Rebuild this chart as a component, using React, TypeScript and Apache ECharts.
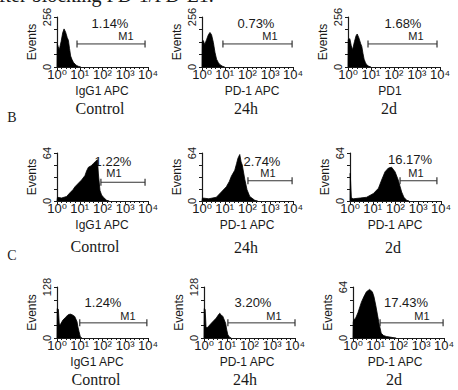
import React, { useEffect, useRef } from 'react';
import * as echarts from 'echarts';

// ---------- data ----------
const headerText = 'after blocking PD-1/PD-L1.';
const xTickLabels = ['10⁰', '10¹', '10²', '10³', '10⁴'];
const conditions = ['Control', '24h', '2d'];
const rowLetters = ['B', 'C'];
const axisNamesA = ['IgG1 APC', 'PD-1 APC', 'PD1'];
const axisNamesB = ['IgG1 APC', 'PD-1 APC', 'PD-1 APC'];
const axisNamesC = ['IgG1 APC', 'PD-1 APC', 'PD-1 APC'];
const yMaxA = [256, 256, 256];
const yMaxB = [64, 64, 64];
const yMaxC = [128, 128, 64];
const pctA = ['1.14%', '0.73%', '1.68%'];
const pctB = ['1.22%', '2.74%', '16.17%'];
const pctC = ['1.24%', '3.20%', '17.43%'];
const gateA = [[0.88, 3.87], [0.92, 3.96], [0.87, 3.87]];
const gateLevelA = [118, 118, 118];
const gateB = [[1.93, 3.87], [2.02, 3.96], [2.2, 3.82]];
const gateLevelB = [25, 27, 27];
const gateC = [[1.0, 3.95], [1.05, 4.0], [1.19, 3.96]];
const gateLevelC = [38, 38, 19];

// histograms: [decade, events]
const histA_control = [[0, 0], [0.01, 120], [0.05, 105], [0.1, 88], [0.18, 130], [0.25, 175], [0.31, 195], [0.38, 178], [0.45, 150], [0.5, 137], [0.55, 95], [0.6, 56], [0.66, 38], [0.72, 24], [0.8, 14], [0.86, 8], [0.95, 3], [1.05, 0]];
const histA_24h = [[0, 0], [0.01, 130], [0.06, 135], [0.12, 115], [0.2, 140], [0.28, 165], [0.35, 177], [0.42, 165], [0.5, 125], [0.57, 75], [0.64, 40], [0.72, 22], [0.79, 12], [0.9, 4], [1.0, 0]];
const histA_2d = [[0, 0], [0.01, 140], [0.08, 145], [0.14, 110], [0.2, 88], [0.28, 130], [0.35, 160], [0.4, 169], [0.47, 150], [0.55, 120], [0.6, 105], [0.65, 70], [0.7, 40], [0.76, 22], [0.81, 12], [0.9, 4], [1.0, 0]];
const histB_control = [[0, 0], [0.02, 5], [0.2, 4], [0.42, 6], [0.57, 11], [0.7, 15], [0.79, 19], [0.95, 24], [1.08, 28], [1.23, 34], [1.3, 40], [1.38, 45], [1.5, 47], [1.6, 50], [1.7, 53], [1.78, 55], [1.82, 36], [1.89, 14], [1.96, 8], [2.04, 5], [2.18, 1], [2.3, 0]];
const histB_24h = [[0, 0], [0.02, 4], [0.3, 3], [0.63, 5], [0.85, 12], [1.07, 19], [1.2, 26], [1.29, 33], [1.44, 41], [1.52, 50], [1.58, 57], [1.66, 62], [1.72, 52], [1.77, 48], [1.88, 29], [1.98, 15], [2.1, 6], [2.32, 1], [2.45, 0]];
const histB_2d = [[0, 0], [0.01, 37], [0.04, 37], [0.06, 4], [0.15, 3], [0.45, 4], [0.73, 5], [1.03, 10], [1.25, 17], [1.39, 28], [1.54, 39], [1.69, 44], [1.83, 45], [1.98, 39], [2.12, 28], [2.27, 12], [2.37, 5], [2.49, 1], [2.6, 0]];
const histC_control = [[0, 0], [0.01, 74], [0.06, 72], [0.1, 35], [0.14, 33], [0.26, 45], [0.38, 52], [0.48, 58], [0.58, 60], [0.68, 58], [0.78, 54], [0.88, 41], [0.92, 28], [0.97, 16], [1.03, 2], [1.1, 0]];
const histC_24h = [[0, 0], [0.01, 74], [0.05, 72], [0.09, 28], [0.13, 25], [0.32, 37], [0.54, 50], [0.62, 57], [0.69, 62], [0.76, 58], [0.83, 54], [0.95, 37], [1.0, 20], [1.05, 8], [1.12, 2], [1.2, 0]];
const histC_2d = [[0, 0], [0.01, 20], [0.04, 23], [0.12, 25], [0.22, 32], [0.37, 45], [0.48, 52], [0.59, 58], [0.73, 61], [0.85, 58], [0.92, 52], [1.0, 41], [1.07, 30], [1.14, 19], [1.24, 6], [1.35, 3], [1.46, 2], [1.76, 0.5], [1.9, 0]];

// ---------- layout ----------
const gridLayout = [
  { left: 57, top: 17, width: 91, height: 50 },
  { left: 202, top: 17, width: 91, height: 50 },
  { left: 348, top: 17, width: 92, height: 50 },
  { left: 57, top: 153, width: 91, height: 48 },
  { left: 202, top: 153, width: 91, height: 48 },
  { left: 350, top: 153, width: 91, height: 48 },
  { left: 57, top: 287, width: 91, height: 51 },
  { left: 204, top: 287, width: 91, height: 51 },
  { left: 353, top: 287, width: 91, height: 51 },
];
const pctPos = [[110, 23], [256, 23], [403, 23], [113, 161], [262, 161], [410, 159], [103, 302], [253, 302], [406, 302]];
const m1Pos = [[126, 36], [270, 36], [416, 36], [114, 173], [268, 173], [416, 173], [128, 316], [274, 316], [422, 316]];
const axisNamePos = [[102, 91], [252, 91], [390, 91], [102, 225], [247, 225], [395, 225], [97, 362], [247, 362], [395, 362]];
const condPos = [[100, 108], [246, 108], [389, 108], [95, 246], [246, 247], [393, 247], [96, 379], [245, 379], [394, 379]];
const letterPos = [[12, 117], [12, 255]];

const SANS = '"Liberation Sans", Arial, "DejaVu Sans", sans-serif';
const SERIF = '"Liberation Serif", "Times New Roman", serif';
const INK = '#1a1a1a';

function buildOption() {
  const hists = [histA_control, histA_24h, histA_2d, histB_control, histB_24h, histB_2d, histC_control, histC_24h, histC_2d];
  const yMax = [...yMaxA, ...yMaxB, ...yMaxC];
  const pct = [...pctA, ...pctB, ...pctC];
  const gates = [...gateA, ...gateB, ...gateC];
  const gateLevels = [...gateLevelA, ...gateLevelB, ...gateLevelC];
  const axisNames = [...axisNamesA, ...axisNamesB, ...axisNamesC];

  const grid = gridLayout.map((g) => ({ ...g, containLabel: false }));
  const xAxis = gridLayout.map((_, i) => ({
    gridIndex: i,
    type: 'value',
    min: 0,
    max: 4,
    interval: 1,
    axisLine: { show: true, lineStyle: { color: INK, width: 1.2 } },
    axisTick: { show: true, length: 3, lineStyle: { color: INK } },
    minorTick: { show: true, splitNumber: 5, length: 2, lineStyle: { color: INK } },
    splitLine: { show: false },
    axisLabel: {
      margin: 1,
      fontSize: 13,
      color: INK,
      fontFamily: SANS,
      formatter: (v: number) => xTickLabels[Math.round(v)] ?? '',
    },
  }));
  const yAxis = gridLayout.map((_, i) => ({
    gridIndex: i,
    type: 'value',
    min: 0,
    max: yMax[i],
    interval: yMax[i] / 4,
    axisLine: { show: true, lineStyle: { color: INK, width: 1.2 } },
    axisTick: { show: true, length: 3, lineStyle: { color: INK } },
    splitLine: { show: false },
    axisLabel: {
      rotate: 90,
      margin: 5,
      fontSize: 11,
      color: INK,
      fontFamily: SANS,
      formatter: (v: number) => (v === 0 || v === yMax[i] ? String(v) : ''),
    },
    name: 'Events',
    nameLocation: 'middle',
    nameRotate: 90,
    nameGap: 19,
    nameTextStyle: { fontSize: 12, color: INK, fontFamily: SANS },
  }));

  const series: any[] = [];
  hists.forEach((h, i) => {
    series.push({
      type: 'line',
      xAxisIndex: i,
      yAxisIndex: i,
      data: h,
      symbol: 'none',
      showSymbol: false,
      silent: true,
      lineStyle: { color: '#000', width: 0.8 },
      areaStyle: { color: '#000', opacity: 1 },
    });
    series.push({
      type: 'line',
      xAxisIndex: i,
      yAxisIndex: i,
      data: [[gates[i][0], gateLevels[i]], [gates[i][1], gateLevels[i]]],
      symbol: 'rect',
      symbolSize: [1.2, 7],
      showSymbol: true,
      silent: true,
      itemStyle: { color: '#333' },
      lineStyle: { color: '#333', width: 1 },
    });
  });

  const txt = (text: string, x: number, y: number, font: string, align = 'center') => ({
    type: 'text',
    x,
    y,
    silent: true,
    style: { text, font, fill: INK, textAlign: align, textVerticalAlign: 'middle' },
  });

  const graphic: any[] = [];
  graphic.push({
    type: 'text',
    x: -10,
    y: 5,
    silent: true,
    style: { text: headerText, font: `20px ${SERIF}`, fill: INK, textAlign: 'left', textVerticalAlign: 'bottom' },
  });
  for (let i = 0; i < 9; i++) {
    graphic.push(txt(pct[i], pctPos[i][0], pctPos[i][1], `13px ${SANS}`));
    graphic.push(txt('M1', m1Pos[i][0], m1Pos[i][1], `11px ${SANS}`));
    graphic.push(txt(axisNames[i], axisNamePos[i][0], axisNamePos[i][1], `12px ${SANS}`));
    graphic.push(txt(conditions[i % 3], condPos[i][0], condPos[i][1], `16px ${SERIF}`));
  }
  rowLetters.forEach((l, k) => graphic.push(txt(l, letterPos[k][0], letterPos[k][1], `14px ${SERIF}`)));

  return {
    animation: false,
    backgroundColor: '#fff',
    grid,
    xAxis,
    yAxis,
    series,
    graphic,
  };
}

export default function App() {
  const ref = useRef<HTMLDivElement>(null);
  useEffect(() => {
    if (!ref.current) return;
    const chart = echarts.init(ref.current, undefined, { renderer: 'svg' });
    chart.setOption(buildOption() as any);
    return () => chart.dispose();
  }, []);
  return (
    <div
      ref={ref}
      style={{ position: 'fixed', left: 0, top: 0, width: 458, height: 390, background: '#fff' }}
    />
  );
}
